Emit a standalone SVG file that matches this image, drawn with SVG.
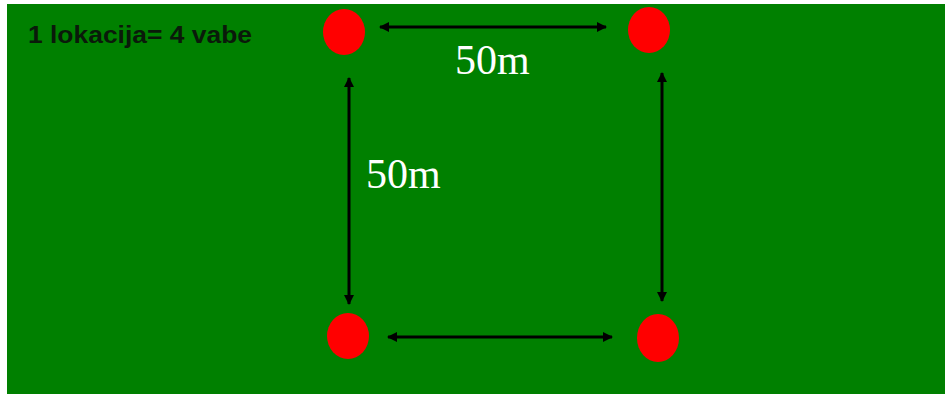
<svg xmlns="http://www.w3.org/2000/svg" width="945" height="394" viewBox="0 0 945 394">
<style>
.pt{fill:#ff0000}
.ar{stroke:#000;stroke-width:3;fill:none;marker-start:url(#ah);marker-end:url(#ah)}
.lbl{font-family:"Liberation Serif","Times New Roman",serif;font-size:42px;fill:#ffffff}
.ttl{font-family:"Liberation Sans",Arial,sans-serif;font-weight:bold;font-size:24px;fill:#0a1a0a}
</style>
<defs>
<marker id="ah" viewBox="0 0 10 10" refX="9" refY="5" markerWidth="3.4" markerHeight="3.4" orient="auto-start-reverse" markerUnits="strokeWidth">
<path d="M0,0 L10,5 L0,10 z" fill="#000"/>
</marker>
</defs>
<rect x="0" y="0" width="945" height="394" fill="#ffffff"/>
<rect x="7" y="4" width="938" height="390" fill="#008000"/>
<text class="ttl" x="28" y="43" textLength="224" lengthAdjust="spacingAndGlyphs">1 lokacija= 4 vabe</text>
<g id="connectors">
<line class="ar" x1="380" y1="27" x2="606" y2="27"/>
<line class="ar" x1="388" y1="337" x2="612" y2="337"/>
<line class="ar" x1="349" y1="78" x2="349" y2="304"/>
<line class="ar" x1="662" y1="73" x2="662" y2="301"/>
</g>
<g id="node-tl"><ellipse class="pt" cx="344" cy="32" rx="21" ry="23"/></g>
<g id="node-tr"><ellipse class="pt" cx="649" cy="30" rx="21" ry="23"/></g>
<g id="node-bl"><ellipse class="pt" cx="348" cy="336" rx="21" ry="23"/></g>
<g id="node-br"><ellipse class="pt" cx="658" cy="338" rx="21" ry="24"/></g>
<text class="lbl" x="455" y="74">50m</text>
<text class="lbl" x="366" y="188">50m</text>
</svg>
